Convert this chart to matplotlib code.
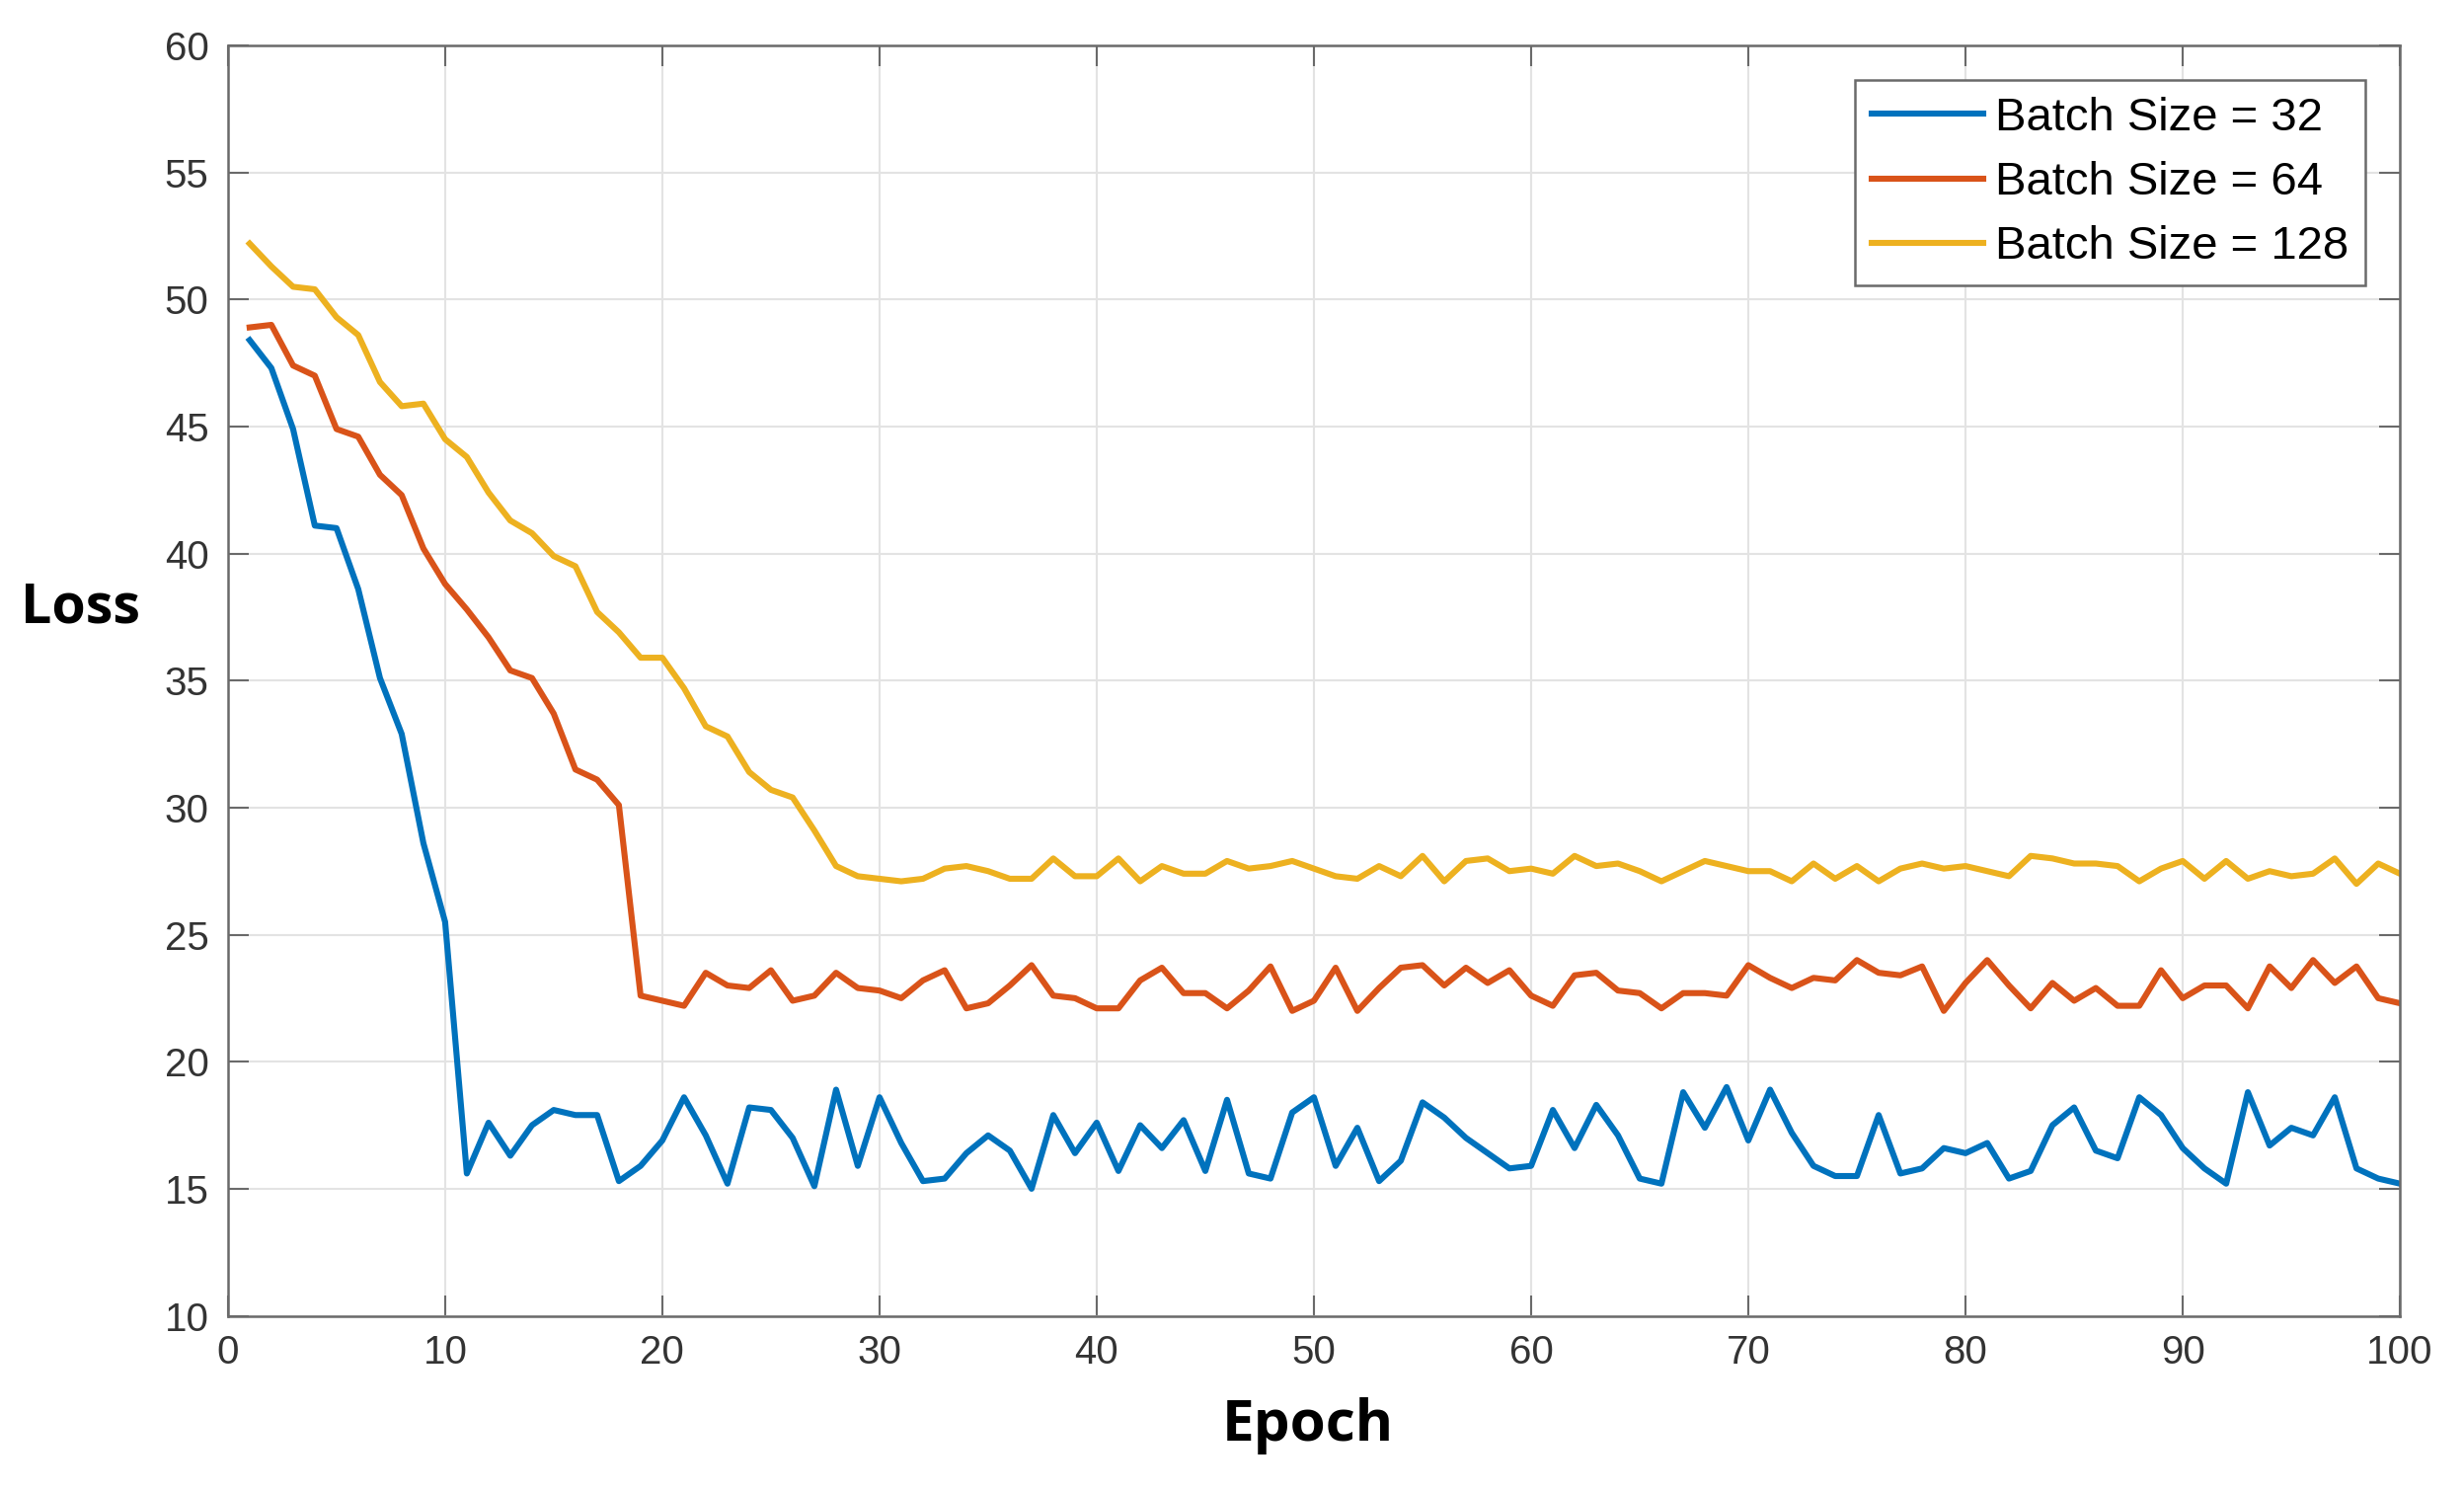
import numpy as np
import matplotlib
matplotlib.use('Agg')
import matplotlib.pyplot as plt

# loss per epoch
epochs = np.arange(1, 101)

loss_32 = [48.4, 47.3, 44.9, 41.1, 41.0, 38.6, 35.1, 32.9, 28.6, 25.5,
           15.6, 17.6, 16.3, 17.5, 18.1, 17.9, 17.9, 15.3, 15.9, 16.9,
           18.6, 17.1, 15.2, 18.2, 18.1, 17.0, 15.1, 18.9, 15.9, 18.6,
           16.8, 15.3, 15.4, 16.4, 17.1, 16.5, 15.0, 17.9, 16.4, 17.6,
           15.7, 17.5, 16.6, 17.7, 15.7, 18.5, 15.6, 15.4, 18.0, 18.6,
           15.9, 17.4, 15.3, 16.1, 18.4, 17.8, 17.0, 16.4, 15.8, 15.9,
           18.1, 16.6, 18.3, 17.1, 15.4, 15.2, 18.8, 17.4, 19.0, 16.9,
           18.9, 17.2, 15.9, 15.5, 15.5, 17.9, 15.6, 15.8, 16.6, 16.4,
           16.8, 15.4, 15.7, 17.5, 18.2, 16.5, 16.2, 18.6, 17.9, 16.6,
           15.8, 15.2, 18.8, 16.7, 17.4, 17.1, 18.6, 15.8, 15.4, 15.2]

loss_64 = [48.9, 49.0, 47.4, 47.0, 44.9, 44.6, 43.1, 42.3, 40.2, 38.8,
           37.8, 36.7, 35.4, 35.1, 33.7, 31.5, 31.1, 30.1, 22.6, 22.4,
           22.2, 23.5, 23.0, 22.9, 23.6, 22.4, 22.6, 23.5, 22.9, 22.8,
           22.5, 23.2, 23.6, 22.1, 22.3, 23.0, 23.8, 22.6, 22.5, 22.1,
           22.1, 23.2, 23.7, 22.7, 22.7, 22.1, 22.8, 23.75, 22.0, 22.4,
           23.7, 22.0, 22.9, 23.7, 23.8, 23.0, 23.7, 23.1, 23.6, 22.6,
           22.2, 23.4, 23.5, 22.8, 22.7, 22.1, 22.7, 22.7, 22.6, 23.8,
           23.3, 22.9, 23.3, 23.2, 24.0, 23.5, 23.4, 23.75, 22.0, 23.1,
           24.0, 23.0, 22.1, 23.1, 22.4, 22.9, 22.2, 22.2, 23.6, 22.5,
           23.0, 23.0, 22.1, 23.75, 22.9, 24.0, 23.1, 23.75, 22.5, 22.3]

loss_128 = [52.2, 51.3, 50.5, 50.4, 49.3, 48.6, 46.75, 45.8, 45.9, 44.5,
            43.8, 42.4, 41.3, 40.8, 39.9, 39.5, 37.7, 36.9, 35.9, 35.9,
            34.7, 33.2, 32.8, 31.4, 30.7, 30.4, 29.1, 27.7, 27.3, 27.2,
            27.1, 27.2, 27.6, 27.7, 27.5, 27.2, 27.2, 28.0, 27.3, 27.3,
            28.0, 27.1, 27.7, 27.4, 27.4, 27.9, 27.6, 27.7, 27.9, 27.6,
            27.3, 27.2, 27.7, 27.3, 28.1, 27.1, 27.9, 28.0, 27.5, 27.6,
            27.4, 28.1, 27.7, 27.8, 27.5, 27.1, 27.5, 27.9, 27.7, 27.5,
            27.5, 27.1, 27.8, 27.2, 27.7, 27.1, 27.6, 27.8, 27.6, 27.7,
            27.5, 27.3, 28.1, 28.0, 27.8, 27.8, 27.7, 27.1, 27.6, 27.9,
            27.2, 27.9, 27.2, 27.5, 27.3, 27.4, 28.0, 27.0, 27.8, 27.4]

labels = ['Batch Size = 32', 'Batch Size = 64', 'Batch Size = 128']
colors = ['#0072BD', '#D95319', '#EDB120']

plt.rcParams['font.family'] = ['Liberation Sans', 'DejaVu Sans']

fig = plt.figure(figsize=(24.96, 15.12), dpi=100)
ax = fig.add_axes([0.0925, 0.1187, 0.8815, 0.8509])

for y, c, lab in zip([loss_32, loss_64, loss_128], colors, labels):
    ax.plot(epochs, y, color=c, linewidth=4.4, label=lab)

ax.set_xlim(0, 100)
ax.set_ylim(10, 60)
ax.set_xticks(np.arange(0, 101, 10))
ax.set_yticks(np.arange(10, 61, 5))

# matlab-ish look: box, inward ticks, faint grid
ax.grid(True, color='#e3e3e3', linewidth=1.5)
ax.set_axisbelow(True)
for s in ax.spines.values():
    s.set_color('#6a6a6a')
    s.set_linewidth(1.8)
ax.tick_params(axis='both', direction='in', length=15, width=1.5, color='#6a6a6a',
               labelsize=29, labelcolor='#333333', top=True, right=True)
ax.tick_params(axis='x', pad=13)
ax.tick_params(axis='y', pad=14)

ax.set_xlabel('Epoch', fontsize=42, fontweight='bold', family='Open Sans', va='center')
ax.xaxis.set_label_coords(0.497, -0.087)
ax.set_ylabel('Loss', fontsize=40, fontweight='bold', family='Open Sans', rotation=0,
              ha='center', va='center')
ax.yaxis.set_label_coords(-0.068, 0.557)

leg = ax.legend(loc='upper right', fontsize=34, fancybox=False, framealpha=1,
                edgecolor='#6a6a6a', handlelength=2.4, handletextpad=0.25,
                labelspacing=0.45, borderaxespad=0.75, borderpad=0.35)
leg.get_frame().set_linewidth(1.8)

fig.savefig('out.png', dpi=100)
